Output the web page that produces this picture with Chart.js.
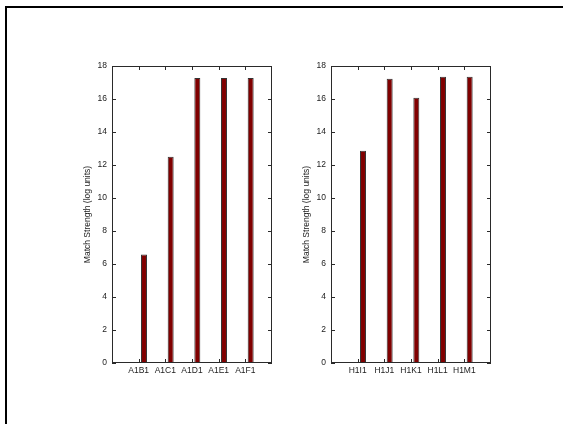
<!DOCTYPE html>
<html>
<head>
<meta charset="utf-8">
<script src="https://cdn.jsdelivr.net/npm/chart.js@4/dist/chart.umd.min.js"></script>
<style>
    html, body { margin: 0; padding: 0; background: #fff; }
    body { width: 563px; height: 424px; position: relative; overflow: hidden; }
    #marco { position: absolute; left: 5px; top: 6px; right: -2px; bottom: -2px;
             border-top: 2px solid #000; border-left: 2px solid #000; }
    canvas { position: absolute; }
</style>
</head>
<body>
<div id="marco"></div>
<canvas id="grafica-a" width="208" height="333" style="left:74px; top:50px;"></canvas>
<canvas id="grafica-h" width="208" height="333" style="left:293px; top:50px;"></canvas>

<script>
// =============================================
// DATOS
// =============================================
const categoriasA = ['A1B1', 'A1C1', 'A1D1', 'A1E1', 'A1F1'];
const baseA       = [0, 0, 0, 0, 0];
const fuerzaA     = [6.58, 12.5, 17.27, 17.27, 17.27];

const categoriasH = ['H1I1', 'H1J1', 'H1K1', 'H1L1', 'H1M1'];
const baseH       = [0, 0, 0, 0, 0];
const fuerzaH     = [12.86, 17.23, 16.08, 17.35, 17.35];

const ejeYMin  = 0;
const ejeYMax  = 18;
const ejeYPaso = 2;
const tituloY  = 'Match Strength (log units)';

Chart.defaults.font.family = '"Liberation Sans", Arial, sans-serif';
Chart.defaults.font.size = 8.5;
Chart.defaults.color = '#222';

// Caja del eje con marcas hacia dentro en los cuatro lados (estilo MATLAB)
const marcoEjes = {
    id: 'marcoEjes',
    afterDatasetsDraw(chart) {
        const { ctx, chartArea: a, scales: { x, y } } = chart;
        const largo = 4;
        ctx.save();
        ctx.strokeStyle = '#2a2a2a';
        ctx.lineWidth = 1;
        ctx.strokeRect(a.left + 0.5, a.top + 0.5, a.width - 1, a.height - 1);
        ctx.beginPath();
        y.ticks.forEach(t => {
            const py = Math.round(y.getPixelForValue(t.value)) + 0.5;
            ctx.moveTo(a.left, py);  ctx.lineTo(a.left + largo, py);
            ctx.moveTo(a.right, py); ctx.lineTo(a.right - largo, py);
        });
        x.ticks.forEach(t => {
            if (!x.getLabelForValue(t.value)) return; // huecos de los extremos
            const px = Math.round(x.getPixelForValue(t.value)) + 0.5;
            ctx.moveTo(px, a.top);    ctx.lineTo(px, a.top + largo);
            ctx.moveTo(px, a.bottom); ctx.lineTo(px, a.bottom - largo);
        });
        ctx.stroke();
        ctx.restore();
    }
};

function crearGrafica(idCanvas, categorias, base, fuerza) {
    // Un hueco vacío a cada lado para que el eje vaya de 0 a 6
    const etiquetas = ['', ...categorias, ''];
    const relleno = arr => [null, ...arr, null];

    return new Chart(document.getElementById(idCanvas), {
        type: 'bar',
        data: {
            labels: etiquetas,
            datasets: [
                {
                    data: relleno(base),
                    backgroundColor: '#00008f',
                    borderWidth: 0,
                    categoryPercentage: 0.8,
                    barPercentage: 0.56
                },
                {
                    data: relleno(fuerza),
                    backgroundColor: '#800000',
                    borderColor: '#333',
                    borderWidth: 1,
                    borderSkipped: 'start',
                    categoryPercentage: 0.8,
                    barPercentage: 0.56
                }
            ]
        },
        options: {
            responsive: false,
            animation: false,
            devicePixelRatio: 1,
            layout: { padding: { top: 16, right: 10, left: 0, bottom: 0 } },
            plugins: { legend: { display: false }, tooltip: { enabled: false } },
            scales: {
                x: {
                    offset: false,
                    grid: { display: false, drawTicks: false },
                    border: { display: false },
                    ticks: { autoSkip: false, maxRotation: 0, minRotation: 0, padding: 3 },
                    afterFit: s => { s.height = 20; }
                },
                y: {
                    min: ejeYMin,
                    max: ejeYMax,
                    grid: { display: false, drawTicks: false },
                    border: { display: false },
                    ticks: { stepSize: ejeYPaso, padding: 5 },
                    title: { display: true, text: tituloY, padding: { top: 9, bottom: 0 } },
                    afterFit: s => { s.width = 38; }
                }
            }
        },
        plugins: [marcoEjes]
    });
}

crearGrafica('grafica-a', categoriasA, baseA, fuerzaA);
crearGrafica('grafica-h', categoriasH, baseH, fuerzaH);
</script>
</body>
</html>
